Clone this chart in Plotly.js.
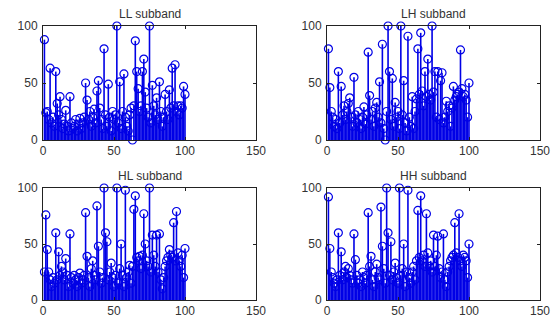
<!DOCTYPE html>
<html>
<head>
<meta charset="utf-8">
<script src="https://cdn.plot.ly/plotly-3.0.1.min.js"></script>
<style>html,body{margin:0;padding:0;background:#fff;}#chart{width:558px;height:320px;}</style>
</head>
<body>
<div id="chart"></div>
<script>
const titles = ["LL subband", "LH subband", "HL subband", "HH subband"];
const xTicks = [0, 50, 100, 150];
const yTicks = [0, 50, 100];

const llValues = [88,24,25,18,63,15,20,12,60,32,22,38,18,10,14,26,12,8,38,15,
  10,12,18,8,14,19,10,15,20,50,35,18,25,12,20,27,15,43,52,28,
  18,10,80,22,12,49,20,8,25,18,22,100,15,51,10,25,58,20,12,8,
  22,28,0,30,87,60,45,25,30,60,71,42,28,20,100,15,48,30,22,37,
  18,51,25,12,20,40,25,18,44,28,63,30,66,25,30,22,30,28,47,40];

const lhValues = [80,46,25,20,12,18,10,60,15,47,22,30,18,25,32,37,20,12,55,22,
  15,25,18,10,20,29,14,22,77,39,18,25,12,28,33,20,51,15,84,10,
  0,25,100,60,18,54,12,33,20,25,10,100,22,52,15,8,91,20,12,38,
  10,25,36,80,40,94,43,30,60,38,71,40,35,100,42,60,20,60,18,52,
  59,15,20,34,25,30,12,28,47,35,38,40,42,79,45,38,40,35,20,50];

const hlValues = [25,76,45,25,18,12,20,15,60,18,43,22,30,25,18,37,22,12,59,20,
  15,22,18,12,20,24,15,18,22,78,39,20,12,28,35,22,18,84,48,25,
  15,20,100,60,52,18,25,33,20,12,22,100,15,28,50,22,12,98,20,25,
  31,15,30,81,93,38,35,39,28,40,77,50,35,30,100,25,58,40,30,58,
  25,59,18,10,20,30,35,38,45,40,38,69,35,79,42,35,30,40,20,46];

const hhValues = [92,46,25,20,15,12,18,60,22,43,18,25,30,20,28,22,18,15,59,36,
  22,15,18,12,25,20,15,22,78,30,39,18,12,25,32,20,18,83,48,28,
  15,100,60,22,52,18,25,33,20,15,100,22,28,50,12,25,98,20,15,25,
  30,18,35,80,38,93,35,40,30,77,42,30,35,25,58,30,40,57,28,20,
  25,59,18,12,25,30,35,38,40,69,42,38,77,35,30,40,38,35,20,50];

const series = [llValues, lhValues, hlValues, hhValues];
const stemColor = "#0000e6";
const textColor = "#333333";
const fontFamily = "Liberation Sans, Arial, sans-serif";

const traces = series.map((vals, k) => {
  const idx = k === 0 ? "" : String(k + 1);
  return {
    type: "scatter",
    mode: "markers",
    x: vals.map((_, i) => i + 1),
    y: vals,
    xaxis: "x" + idx,
    yaxis: "y" + idx,
    cliponaxis: false,
    marker: {symbol: "circle-open", size: 8, color: stemColor, line: {width: 1.2, color: stemColor}},
    error_y: {
      type: "data", symmetric: false, visible: true,
      array: vals.map(() => 0), arrayminus: vals,
      width: 0, thickness: 1.6, color: stemColor
    },
    showlegend: false,
    hoverinfo: "x+y"
  };
});

const W = 558, H = 320;
const xDomains = [[43 / W, 256 / W], [327 / W, 540 / W]];
const yDomains = [[1 - 140 / H, 1 - 26 / H], [1 - 300 / H, 1 - 188 / H]];

function axisBase() {
  return {
    showline: true, mirror: "ticks", linecolor: "#222", linewidth: 1,
    ticks: "inside", ticklen: 3, tickcolor: "#222",
    showgrid: false, zeroline: false, fixedrange: true,
    tickfont: {family: fontFamily, size: 12, color: textColor}
  };
}

const layout = {
  width: W, height: H,
  margin: {l: 0, r: 0, t: 0, b: 0},
  paper_bgcolor: "#fff", plot_bgcolor: "#fff",
  annotations: []
};

for (let k = 0; k < 4; k++) {
  const idx = k === 0 ? "" : String(k + 1);
  const col = k % 2, row = Math.floor(k / 2);
  layout["xaxis" + idx] = Object.assign(axisBase(), {
    domain: xDomains[col], range: [0, 150], tickvals: xTicks,
    anchor: "y" + idx, ticklabelstandoff: 0
  });
  layout["yaxis" + idx] = Object.assign(axisBase(), {
    domain: yDomains[row], range: [0, 100], tickvals: yTicks,
    anchor: "x" + idx, ticklabelstandoff: 2
  });
  layout.annotations.push({
    text: titles[k], xref: "paper", yref: "paper",
    x: (xDomains[col][0] + xDomains[col][1]) / 2,
    y: yDomains[row][1], yshift: 3,
    xanchor: "center", yanchor: "bottom", showarrow: false,
    font: {family: fontFamily, size: 12, color: textColor}
  });
}

Plotly.newPlot("chart", traces, layout, {displayModeBar: false, staticPlot: true});
</script>
</body>
</html>
